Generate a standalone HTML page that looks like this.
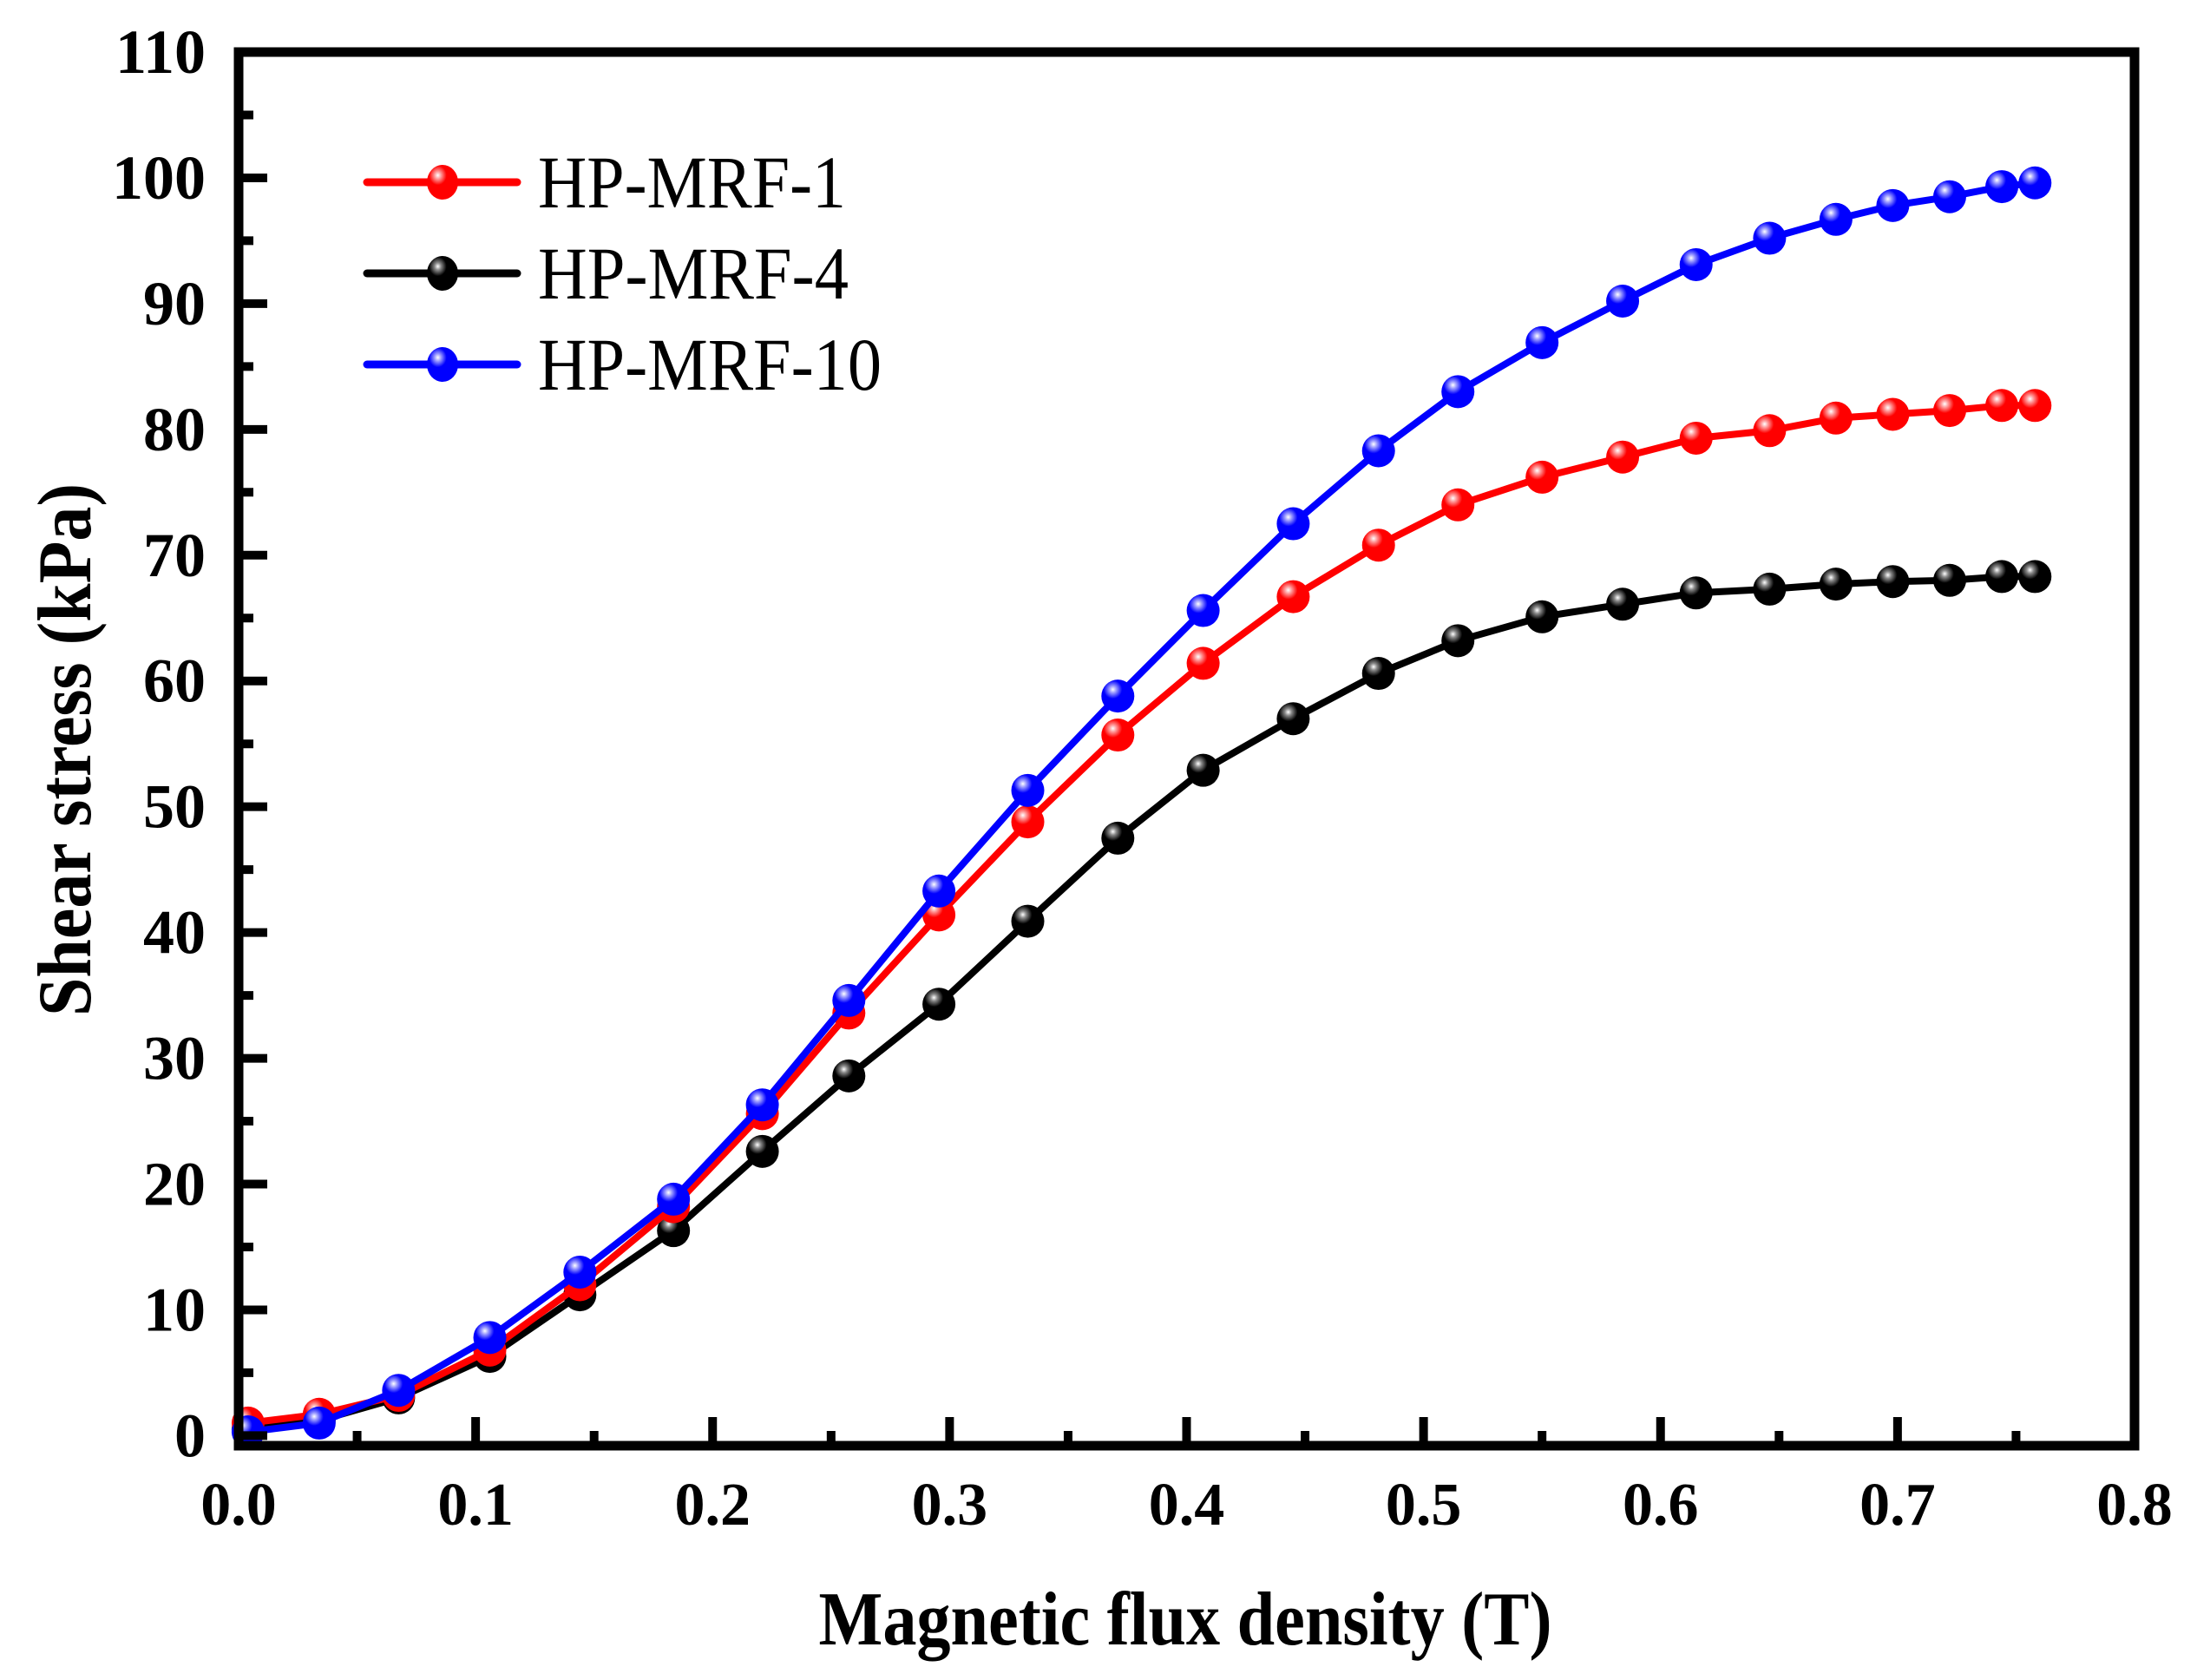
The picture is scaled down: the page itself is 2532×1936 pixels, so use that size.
<!DOCTYPE html>
<html><head><meta charset="utf-8"><style>
html,body{margin:0;padding:0;background:#fff}
svg{display:block}
text{font-family:"Liberation Serif",serif}
</style></head><body>
<svg id="chart" width="2532" height="1936" viewBox="0 0 2532 1936" xmlns="http://www.w3.org/2000/svg">
<defs>
<radialGradient id="gr" cx="0.35" cy="0.3" r="0.7"><stop offset="0" stop-color="#fff"/><stop offset="0.15" stop-color="#ff9a9a"/><stop offset="0.4" stop-color="#ff0000"/><stop offset="1" stop-color="#ff0000"/></radialGradient>
<radialGradient id="gk" cx="0.35" cy="0.3" r="0.7"><stop offset="0" stop-color="#fff"/><stop offset="0.15" stop-color="#888"/><stop offset="0.4" stop-color="#000"/><stop offset="1" stop-color="#000"/></radialGradient>
<radialGradient id="gb" cx="0.35" cy="0.3" r="0.7"><stop offset="0" stop-color="#fff"/><stop offset="0.15" stop-color="#9a9aff"/><stop offset="0.4" stop-color="#0000ff"/><stop offset="1" stop-color="#0000ff"/></radialGradient>
</defs>
<g id="plot"></g>
<g id="axes"></g>
<text x="1366" y="1895" font-size="88" font-weight="bold" text-anchor="middle" textLength="845" lengthAdjust="spacingAndGlyphs">Magnetic flux density (T)</text>
<text transform="translate(104,864) rotate(-90)" font-size="88" font-weight="bold" text-anchor="middle" textLength="614" lengthAdjust="spacingAndGlyphs">Shear stress (kPa)</text>
<g id="legend"></g>
</svg>
<script>
const xValues = [0.004,0.034,0.0675,0.106,0.144,0.1835,0.221,0.2575,0.2955,0.333,0.371,0.407,0.445,0.481,0.5145,0.55,0.584,0.615,0.646,0.674,0.698,0.722,0.744,0.758];
const red1 = [1.0,1.7,3.2,6.8,12,18.2,25.6,33.6,41.4,48.8,55.7,61.4,66.7,70.8,74.0,76.2,77.8,79.3,79.9,80.9,81.2,81.5,81.9,81.9];
const black4 = [0.5,1.2,3.0,6.3,11.2,16.3,22.6,28.6,34.3,40.9,47.5,52.9,57.0,60.6,63.2,65.1,66.1,67.0,67.3,67.7,67.9,68.0,68.3,68.3];
const blue10 = [0.3,1.0,3.6,7.8,13.0,18.8,26.3,34.6,43.3,51.3,58.8,65.6,72.5,78.3,83.0,86.9,90.2,93.1,95.2,96.7,97.8,98.5,99.3,99.6];
const seriesNames = ["HP-MRF-1","HP-MRF-4","HP-MRF-10"];
const xTicks = [0,0.1,0.2,0.3,0.4,0.5,0.6,0.7,0.8];
const xTickLabels = ["0.0","0.1","0.2","0.3","0.4","0.5","0.6","0.7","0.8"];
const yTicks = [0,10,20,30,40,50,60,70,80,90,100,110];

const NS="http://www.w3.org/2000/svg";
const X0=275, X1=2460, Y0=1666, Y1=60, XMIN=0, XMAX=0.8, YMIN=-0.8, YMAX=110;
function sx(v){return X0+(v-XMIN)/(XMAX-XMIN)*(X1-X0);}
function sy(v){return Y0-(v-YMIN)/(YMAX-YMIN)*(Y0-Y1);}
function mk(tag,attrs,parent){const e=document.createElementNS(NS,tag);for(const k in attrs)e.setAttribute(k,attrs[k]);parent.appendChild(e);return e;}

const plot=document.getElementById('plot');
const axes=document.getElementById('axes');
const legend=document.getElementById('legend');

const series=[
 {vals:black4,color:"#000",grad:"gk",name:seriesNames[1],key:"hp-mrf-4"},
 {vals:red1,color:"#f00",grad:"gr",name:seriesNames[0],key:"hp-mrf-1"},
 {vals:blue10,color:"#00f",grad:"gb",name:seriesNames[2],key:"hp-mrf-10"}
];
series.forEach(s=>{
  const g=mk('g',{},plot);
  
  
  const pts=xValues.map((x,i)=>sx(x).toFixed(1)+','+sy(s.vals[i]).toFixed(1)).join(' ');
  const line=mk('polyline',{points:pts,fill:'none',stroke:s.color,'stroke-width':8,'stroke-linejoin':'round'},g);
  
  
  xValues.forEach((x,i)=>{
    const c=mk('circle',{cx:sx(x),cy:sy(s.vals[i]),r:19,fill:'url(#'+s.grad+')'},g);
    
    
  });
});

const frame=mk('rect',{x:X0,y:Y1,width:X1-X0,height:Y0-Y1,fill:'none',stroke:'#000','stroke-width':11},axes);



xTicks.forEach((t,i)=>{
  const x=sx(t);
  if(i>0&&i<xTicks.length-1){
    const tk=mk('line',{x1:x,x2:x,y1:Y0,y2:Y0-33,stroke:'#000','stroke-width':10},axes);
    
    
  }
  if(i<xTicks.length-1){
    const xm=sx(t+0.05);
    const m=mk('line',{x1:xm,x2:xm,y1:Y0,y2:Y0-17,stroke:'#000','stroke-width':10},axes);
    
    
  }
  const lb=mk('text',{x:x,y:1757,'font-size':70,'font-weight':'bold','text-anchor':'middle'},axes);
  lb.textContent=xTickLabels[i];
  
  
});
yTicks.forEach((t,i)=>{
  const y=sy(t);
  if(i<yTicks.length-1){
    const tk=mk('line',{x1:X0,x2:X0+33,y1:y,y2:y,stroke:'#000','stroke-width':10},axes);
    
    
    const ym=sy(t+5);
    const m=mk('line',{x1:X0,x2:X0+17,y1:ym,y2:ym,stroke:'#000','stroke-width':10},axes);
    
    
  }
  const lb=mk('text',{x:237,y:y+24,'font-size':72,'font-weight':'bold','text-anchor':'end'},axes);
  lb.textContent=String(t);
  
  
});

const legOrder=[series[1],series[0],series[2]];
const legY=[210,315,420];
const legW=[355,358,396];
legOrder.forEach((s,i)=>{
  const g=mk('g',{},legend);
  
  
  mk('line',{x1:423,x2:596,y1:legY[i],y2:legY[i],stroke:s.color,'stroke-width':9,'stroke-linecap':'round'},g);
  mk('ellipse',{cx:510,cy:legY[i],rx:18,ry:20,fill:'url(#'+s.grad+')'},g);
  const t=mk('text',{x:620,y:legY[i]+29,'font-size':86},g);
  t.textContent=s.name;
  t.setAttribute('textLength', legW[i]);
  t.setAttribute('lengthAdjust','spacingAndGlyphs');
});
</script>
</body></html>
